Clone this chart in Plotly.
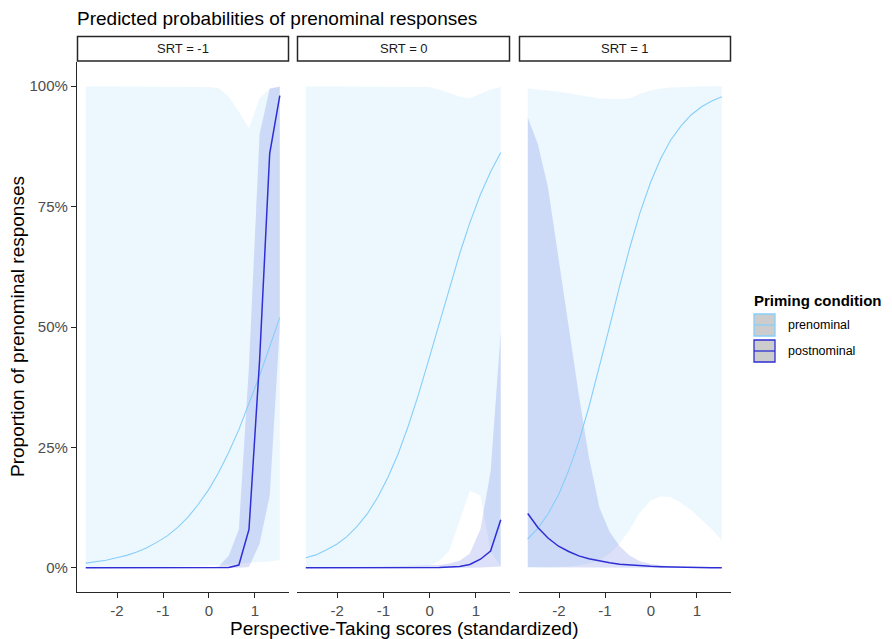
import plotly.graph_objects as go

# ---------------- data ----------------
PT = [-2.68, -2.46, -2.24, -2.01, -1.79, -1.57, -1.35, -1.12, -0.90, -0.68,
      -0.46, -0.24, -0.01, 0.21, 0.43, 0.65, 0.87, 1.10, 1.32, 1.54]

SRT_LABELS = ["SRT = -1", "SRT = 0", "SRT = 1"]
PRIMING = ["prenominal", "postnominal"]

# SRT = -1
pre_fit_m1 = [0.010, 0.013, 0.016, 0.021, 0.026, 0.033, 0.042, 0.054, 0.067, 0.084,
              0.105, 0.131, 0.162, 0.198, 0.240, 0.287, 0.340, 0.399, 0.459, 0.520]
pre_lo_m1 = [0.0003, 0.0004, 0.0005, 0.0006, 0.0008, 0.001, 0.0012, 0.0015, 0.002, 0.0025,
             0.003, 0.004, 0.005, 0.006, 0.007, 0.008, 0.010, 0.012, 0.014, 0.016]
pre_hi_m1 = [0.999, 0.999, 0.999, 0.999, 0.999, 0.999, 0.999, 0.999, 0.999, 0.999,
             0.999, 0.998, 0.998, 0.996, 0.978, 0.947, 0.912, 0.975, 0.994, 0.998]
post_fit_m1 = [0.0001, 0.0001, 0.0001, 0.0001, 0.0001, 0.0001, 0.0001, 0.0001, 0.0001, 0.0001,
               0.0001, 0.0001, 0.0002, 0.0004, 0.001, 0.006, 0.080, 0.430, 0.860, 0.980]
post_lo_m1 = [0.00001, 0.00001, 0.00001, 0.00001, 0.00001, 0.00001, 0.00001, 0.00001, 0.00001, 0.00001,
              0.00001, 0.00001, 0.00001, 0.00001, 0.00002, 0.0001, 0.002, 0.050, 0.150, 0.500]
post_hi_m1 = [0.0001, 0.0001, 0.0001, 0.0001, 0.0001, 0.0001, 0.0001, 0.0001, 0.0001, 0.0002,
              0.0002, 0.0003, 0.0005, 0.003, 0.025, 0.080, 0.420, 0.900, 0.995, 0.999]

# SRT = 0
pre_fit_0 = [0.021, 0.027, 0.037, 0.049, 0.065, 0.086, 0.112, 0.147, 0.188, 0.237,
             0.295, 0.360, 0.435, 0.508, 0.582, 0.652, 0.716, 0.775, 0.822, 0.862]
pre_lo_0 = [0.0002, 0.0003, 0.0004, 0.0005, 0.0006, 0.0008, 0.001, 0.0012, 0.0015, 0.002,
            0.0025, 0.003, 0.004, 0.015, 0.036, 0.100, 0.160, 0.150, 0.035, 0.003]
pre_hi_0 = [0.999, 0.999, 0.999, 0.999, 0.999, 0.999, 0.999, 0.999, 0.999, 0.999,
            0.999, 0.999, 0.998, 0.993, 0.985, 0.978, 0.975, 0.985, 0.993, 0.998]
post_fit_0 = [0.0001, 0.0001, 0.0001, 0.0001, 0.0001, 0.0001, 0.0001, 0.0002, 0.0002, 0.0002,
              0.0003, 0.0003, 0.0005, 0.001, 0.002, 0.003, 0.007, 0.018, 0.035, 0.100]
post_lo_0 = [0.00001, 0.00001, 0.00001, 0.00001, 0.00001, 0.00001, 0.00001, 0.00001, 0.00001, 0.00002,
             0.00002, 0.00003, 0.00004, 0.00006, 0.0001, 0.0002, 0.0004, 0.0008, 0.0015, 0.003]
post_hi_0 = [0.0005, 0.0006, 0.0008, 0.001, 0.0012, 0.0015, 0.002, 0.0025, 0.003, 0.0035,
             0.004, 0.0045, 0.005, 0.006, 0.009, 0.015, 0.030, 0.080, 0.200, 0.490]

# SRT = 1
pre_fit_1 = [0.060, 0.082, 0.112, 0.152, 0.202, 0.262, 0.334, 0.417, 0.501, 0.586,
             0.665, 0.737, 0.800, 0.849, 0.888, 0.917, 0.940, 0.957, 0.969, 0.978]
pre_lo_1 = [0.0005, 0.0007, 0.001, 0.0015, 0.003, 0.005, 0.009, 0.016, 0.030, 0.050,
            0.080, 0.115, 0.140, 0.148, 0.147, 0.135, 0.120, 0.100, 0.080, 0.057]
pre_hi_1 = [0.995, 0.993, 0.991, 0.988, 0.985, 0.981, 0.977, 0.974, 0.973, 0.973,
            0.975, 0.984, 0.991, 0.995, 0.997, 0.998, 0.999, 0.999, 0.9995, 0.9997]
post_fit_1 = [0.113, 0.084, 0.062, 0.045, 0.034, 0.025, 0.019, 0.014, 0.0105, 0.0078,
              0.0058, 0.0043, 0.0032, 0.0024, 0.0018, 0.0013, 0.001, 0.0007, 0.0005, 0.0004]
post_lo_1 = [0.002, 0.0015, 0.001, 0.0008, 0.0006, 0.0005, 0.0004, 0.0003, 0.0002, 0.00015,
             0.0001, 0.00008, 0.00006, 0.00005, 0.00004, 0.00003, 0.00002, 0.00002, 0.00001, 0.00001]
post_hi_1 = [0.935, 0.880, 0.790, 0.640, 0.500, 0.360, 0.230, 0.125, 0.075, 0.045,
             0.025, 0.014, 0.008, 0.005, 0.003, 0.002, 0.0015, 0.001, 0.0008, 0.0006]

Y_TICKS = [0, 0.25, 0.5, 0.75, 1.0]
Y_TICK_LABELS = ["0%", "25%", "50%", "75%", "100%"]
X_TICKS = [-2, -1, 0, 1]
X_TICK_LABELS = ["-2", "-1", "0", "1"]

panels = [
    dict(pre=(pre_fit_m1, pre_lo_m1, pre_hi_m1), post=(post_fit_m1, post_lo_m1, post_hi_m1)),
    dict(pre=(pre_fit_0, pre_lo_0, pre_hi_0), post=(post_fit_0, post_lo_0, post_hi_0)),
    dict(pre=(pre_fit_1, pre_lo_1, pre_hi_1), post=(post_fit_1, post_lo_1, post_hi_1)),
]

# ---------------- styling ----------------
FONT = "Liberation Sans, Arial, sans-serif"
PRE_LINE = "#87CEFA"
PRE_FILL = "rgba(135,206,250,0.15)"
POST_LINE = "#2E2ED6"
POST_FILL = "rgba(45,70,215,0.17)"
AXIS_COL = "#262626"
TICK_TXT = "#4D4D4D"

W, H = 892, 639
ML, MR, MT, MB = 77, 161, 62, 47
PW = W - ML - MR
PH = H - MT - MB


def fx(px):
    return (px - ML) / PW


def fy(py):
    return (H - MB - py) / PH


panel_px = [(77, 289), (297, 510), (519, 731)]
domains = [[fx(a), fx(b)] for a, b in panel_px]

fig = go.Figure()

for i, p in enumerate(panels):
    sfx = "" if i == 0 else str(i + 1)
    xa, ya = "x" + sfx, "y" + sfx
    # ribbons
    for key, fillc in (("pre", PRE_FILL), ("post", POST_FILL)):
        fit, lo, hi = p[key]
        fig.add_trace(go.Scatter(
            x=PT + PT[::-1], y=hi + lo[::-1], mode="lines", fill="toself",
            fillcolor=fillc, line=dict(width=0), hoverinfo="skip",
            showlegend=False, xaxis=xa, yaxis=ya))
    # lines
    for key, col, wd in (("pre", PRE_LINE, 1.1), ("post", POST_LINE, 1.5)):
        fit, lo, hi = p[key]
        fig.add_trace(go.Scatter(
            x=PT, y=fit, mode="lines", line=dict(color=col, width=wd),
            showlegend=False, xaxis=xa, yaxis=ya))

layout = dict(
    width=W, height=H,
    margin=dict(l=ML, r=MR, t=MT, b=MB),
    paper_bgcolor="white", plot_bgcolor="white",
    font=dict(family=FONT, color="black"),
    showlegend=False,
    title=dict(text="Predicted probabilities of prenominal responses",
               x=ML / W, xanchor="left", xref="container",
               y=1 - 18 / H, yanchor="middle", yref="container",
               font=dict(size=19, color="black", family=FONT)),
)

for i in range(3):
    sfx = "" if i == 0 else str(i + 1)
    layout["xaxis" + sfx] = dict(
        domain=domains[i], range=[-2.87, 1.74], anchor="y" + sfx,
        tickmode="array", tickvals=X_TICKS, ticktext=X_TICK_LABELS,
        ticks="outside", ticklen=5, tickwidth=1.2, tickcolor=AXIS_COL,
        showline=True, linecolor=AXIS_COL, linewidth=1.3,
        showgrid=False, zeroline=False,
        tickfont=dict(size=15, color=TICK_TXT, family=FONT))
    if i == 0:
        layout["yaxis"] = dict(
            domain=[0, 1], range=[-0.05, 1.05], anchor="x",
            tickmode="array", tickvals=Y_TICKS, ticktext=Y_TICK_LABELS,
            ticks="outside", ticklen=5, tickwidth=1.2, tickcolor=AXIS_COL,
            showline=True, linecolor=AXIS_COL, linewidth=1.3,
            showgrid=False, zeroline=False,
            tickfont=dict(size=15, color=TICK_TXT, family=FONT))
    else:
        layout["yaxis" + sfx] = dict(
            domain=[0, 1], range=[-0.05, 1.05], anchor="x" + sfx,
            visible=False, showgrid=False, zeroline=False)

shapes = []
annotations = []
# facet strips
for i, (a, b) in enumerate(panel_px):
    shapes.append(dict(type="rect", xref="paper", yref="paper",
                       x0=fx(a + 0.5), x1=fx(b - 0.5), y0=fy(61), y1=fy(36.5),
                       line=dict(color="#262626", width=1.5), fillcolor="white"))
    annotations.append(dict(text=SRT_LABELS[i], xref="paper", yref="paper",
                            x=(fx(a) + fx(b)) / 2, y=fy(48.5), showarrow=False,
                            xanchor="center", yanchor="middle",
                            font=dict(size=13, color="#1A1A1A", family=FONT)))

# axis titles
annotations.append(dict(text="Perspective-Taking scores (standardized)",
                        xref="paper", yref="paper", x=fx(404), y=fy(628),
                        showarrow=False, xanchor="center", yanchor="middle",
                        font=dict(size=19, color="black", family=FONT)))
annotations.append(dict(text="Proportion of prenominal responses",
                        xref="paper", yref="paper", x=fx(17), y=fy(327),
                        showarrow=False, xanchor="center", yanchor="middle",
                        textangle=-90,
                        font=dict(size=19, color="black", family=FONT)))

# legend (manual)
annotations.append(dict(text="<b>Priming condition</b>", xref="paper", yref="paper",
                        x=fx(752), y=fy(300), showarrow=False,
                        xanchor="left", yanchor="middle",
                        font=dict(size=15, color="black", family=FONT)))
key_rows = [(314, 336), (340, 362)]
key_cols = [PRE_LINE, POST_LINE]
for (t, bt), col, lab in zip(key_rows, key_cols, PRIMING):
    shapes.append(dict(type="rect", xref="paper", yref="paper",
                       x0=fx(754), x1=fx(775), y0=fy(bt), y1=fy(t),
                       line=dict(color=col, width=1.3), fillcolor="#CCCCCC"))
    shapes.append(dict(type="line", xref="paper", yref="paper",
                       x0=fx(754), x1=fx(775), y0=fy((t + bt) / 2), y1=fy((t + bt) / 2),
                       line=dict(color=col, width=1.3)))
    annotations.append(dict(text=lab, xref="paper", yref="paper",
                            x=fx(786), y=fy((t + bt) / 2), showarrow=False,
                            xanchor="left", yanchor="middle",
                            font=dict(size=12.5, color="black", family=FONT)))

layout["shapes"] = shapes
layout["annotations"] = annotations
fig.update_layout(**layout)

# remove the default page margin so the figure sits at the window origin
fig.write_html("out.html",
               config={"displayModeBar": False},
               post_script="document.body.style.margin='0px';"
                           "document.body.style.overflow='hidden';")
